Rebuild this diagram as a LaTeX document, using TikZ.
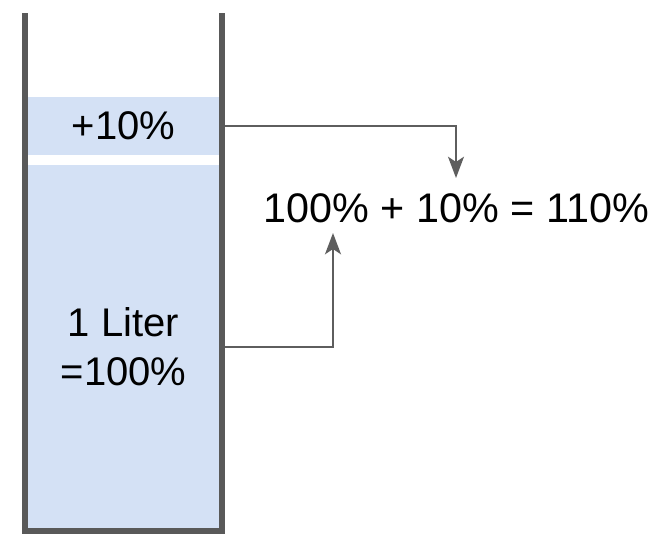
\documentclass[tikz,border=0pt]{standalone}
\usepackage{fontspec}
\setmainfont{Liberation Sans}
\usetikzlibrary{arrows.meta,positioning}
\definecolor{lqblue}{HTML}{D4E1F5}
\definecolor{lqgrey}{HTML}{595959}
\definecolor{lqline}{HTML}{5E5E5E}
\tikzset{
  liq/.style  = {rectangle, fill=lqblue, inner sep=0pt, minimum width=147.75pt,
                 font=\fontsize{30}{36.5}\selectfont, align=center},
  eqn/.style  = {inner xsep=0pt, inner ysep=0pt, font=\fontsize{31}{37}\selectfont},
  wall/.style = {draw=lqgrey, line width=4.5pt},
  ed/.style   = {-{Stealth[length=16pt, width=12pt, inset=4pt]}, draw=lqline,
                 line width=1.5pt},
}

\begin{document}
\begin{tikzpicture}[x=0.75pt,y=-0.75pt]
  \useasboundingbox (0,0) rectangle (662,547);
  % liquid in the beaker
  \node[liq, minimum height=43.5pt]   (extra) at (123.5,126)   {+10\%};
  \node[liq, minimum height=272.25pt] (base)  at (123.5,346.5) {1 Liter\\=100\%};
  % sum on the right
  \node[eqn] (sum) at (456.5,208) {100\% + 10\% = 110\%};
  \coordinate (in10)  at (456,178);
  \coordinate (in100) at (333,233);
  \draw[ed] (extra.east) -| (in10);
  \draw[ed] (base.east)  -| (in100);
  % beaker walls
  \draw[wall] (25,13) -- (25,531) -- (222,531) -- (222,13);
\end{tikzpicture}
\end{document}
